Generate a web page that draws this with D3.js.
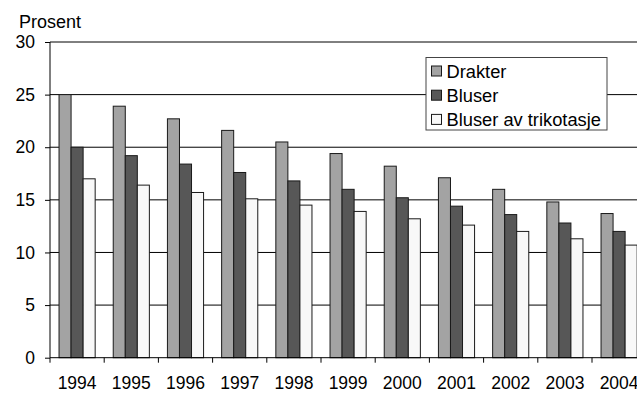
<!DOCTYPE html>
<html><head><meta charset="utf-8">
<script src="https://cdn.jsdelivr.net/npm/d3@7/dist/d3.min.js"></script>
<style>body{margin:0;background:#fff}svg{display:block}text{font-family:"Liberation Sans",Arial,sans-serif;fill:#000}</style>
</head><body>
<script>
const years = ["1994","1995","1996","1997","1998","1999","2000","2001","2002","2003","2004"];
const seriesNames = ["Drakter","Bluser","Bluser av trikotasje"];
const drakter = [25.0,23.9,22.7,21.6,20.5,19.4,18.2,17.1,16.0,14.8,13.7];
const bluser = [20.0,19.2,18.4,17.6,16.8,16.0,15.2,14.4,13.6,12.8,12.0];
const trikotasje = [17.0,16.4,15.7,15.1,14.5,13.9,13.2,12.6,12.0,11.3,10.7];
const yTicks = [0,5,10,15,20,25,30];
const colors = ["#a3a3a3","#575757","#f8f8f8"];

(function(){
const W=637,H=406;
const svg=d3.select("body").append("svg").attr("width",W).attr("height",H);
const mLeft=50, mTop=42, mBottom=357.7, mRight=646.2;
const y=d3.scaleLinear().domain([0,30]).range([mBottom,mTop]);
const x=d3.scaleBand().domain(years).range([mLeft,mRight]).padding(0);
const xs=d3.scaleBand().domain(seriesNames).range([0,x.bandwidth()]).paddingInner(0).paddingOuter(0.75);
const data=[drakter,bluser,trikotasje];

svg.append("g").selectAll("line").data(yTicks.filter(t=>t>0)).join("line")
  .attr("x1",mLeft).attr("x2",W).attr("y1",d=>y(d)).attr("y2",d=>y(d))
  .attr("stroke","#000").attr("stroke-width",1);

years.forEach((yr,i)=>{
  seriesNames.forEach((s,j)=>{
    svg.append("rect")
      .attr("x",x(yr)+xs(s)).attr("y",y(data[j][i]))
      .attr("width",xs.bandwidth()).attr("height",y(0)-y(data[j][i]))
      .attr("fill",colors[j]).attr("stroke","#1a1a1a").attr("stroke-width",1);
  });
});

const ya=svg.append("g").attr("transform",`translate(${mLeft},0)`)
  .call(d3.axisLeft(y).tickValues(yTicks).tickSize(5).tickPadding(10));
ya.select(".domain").attr("stroke","#000").attr("d",`M0,${mTop}V${mBottom}`);
ya.selectAll("text").style("font-size","17.5px").attr("font-family",null);

const xa=svg.append("g").attr("transform",`translate(0,${mBottom})`)
  .call(d3.axisBottom(x).tickSize(0).tickPadding(19));
xa.select(".domain").attr("stroke","#000").attr("d",`M${mLeft},0H${W}`);
xa.selectAll("text").style("font-size","17.5px").attr("font-family",null);
svg.append("g").selectAll("line").data(years).join("line")
  .attr("x1",d=>x(d)).attr("x2",d=>x(d)).attr("y1",mBottom).attr("y2",mBottom+5)
  .attr("stroke","#000");

svg.append("text").attr("x",19).attr("y",27.5).style("font-size","18px").text("Prosent");

const lg=svg.append("g");
lg.append("rect").attr("x",426).attr("y",57.5).attr("width",181).attr("height",72.5)
  .attr("fill","#fff").attr("stroke","#444");
seriesNames.forEach((s,j)=>{
  const cy=71+j*24.2;
  lg.append("rect").attr("x",431.5).attr("y",cy-5).attr("width",10).attr("height",10)
    .attr("fill",colors[j]).attr("stroke","#1a1a1a");
  lg.append("text").attr("x",446.5).attr("y",cy+6.5).style("font-size","18.3px").text(s);
});
})();
</script>
</body></html>
